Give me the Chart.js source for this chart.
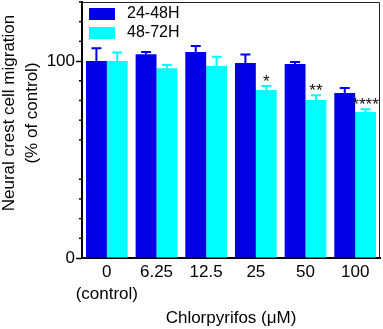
<!DOCTYPE html>
<html>
<head>
<meta charset="utf-8">
<script src="https://cdn.jsdelivr.net/npm/chart.js@4/dist/chart.umd.min.js"></script>
<style>
  body { margin: 0; background: #fff; }
  #wrap { width: 383px; height: 329px; }
</style>
</head>
<body>
<div id="wrap"><canvas id="chart" width="383" height="329"></canvas></div>
<script>
// Data
const doses = [['0', '(control)'], '6.25', '12.5', '25', '50', '100'];
const seriesNames = ['24-48H', '48-72H'];
const mean2448 = [100, 103.5, 104.6, 99, 98.5, 83.8];
const err2448 = [6.5, 1.1, 3, 4.3, 1, 2.5];
const mean4872 = [100, 96.4, 97.5, 85.3, 80.2, 74.1];
const err4872 = [4.3, 1.6, 4.7, 2, 2.5, 1.5];
const stars4872 = ['', '', '', '*', '**', '****'];
const yTicksShown = [0, 50, 100];

const FONT = 'Liberation Sans, Arial, sans-serif';
const darkBlue = '#0000e6';
const cyan = '#00ffff';

// error bars (upper half only) + significance stars
const errorBars = {
    id: 'errorBars',
    afterDatasetsDraw(chart) {
        const ctx = chart.ctx;
        const y = chart.scales.y;
        chart.data.datasets.forEach((ds, di) => {
            const meta = chart.getDatasetMeta(di);
            meta.data.forEach((bar, i) => {
                const top = y.getPixelForValue(ds.data[i] + ds.errors[i]);
                const base = y.getPixelForValue(ds.data[i]);
                ctx.save();
                ctx.strokeStyle = ds.backgroundColor;
                ctx.lineWidth = 2;
                ctx.beginPath();
                ctx.moveTo(bar.x, base);
                ctx.lineTo(bar.x, top);
                ctx.moveTo(bar.x - 5, top);
                ctx.lineTo(bar.x + 5, top);
                ctx.stroke();
                if (ds.stars && ds.stars[i]) {
                    ctx.fillStyle = '#111';
                    ctx.font = '17px ' + FONT;
                    ctx.textAlign = 'center';
                    ctx.textBaseline = 'alphabetic';
                    ctx.fillText(ds.stars[i], bar.x, top + 1);
                }
                ctx.restore();
            });
        });
    }
};

// frame, minor ticks, legend and y title
const decorations = {
    id: 'decorations',
    afterDraw(chart) {
        const ctx = chart.ctx;
        const a = chart.chartArea;
        const y = chart.scales.y;
        ctx.save();
        // thin frame top/right
        ctx.strokeStyle = '#222';
        ctx.lineWidth = 1;
        ctx.beginPath();
        ctx.moveTo(a.left, a.top + 0.5);
        ctx.lineTo(a.right - 0.5, a.top + 0.5);
        ctx.lineTo(a.right - 0.5, a.bottom);
        ctx.stroke();
        // minor ticks every 10
        ctx.lineWidth = 1.5;
        ctx.strokeStyle = '#000';
        for (let v = 10; v <= 130; v += 10) {
            if (v % 50 === 0) continue;
            const py = y.getPixelForValue(v);
            ctx.beginPath();
            ctx.moveTo(a.left - 3, py);
            ctx.lineTo(a.left, py);
            ctx.stroke();
        }
        // legend inside plot
        ctx.font = '16px ' + FONT;
        ctx.textBaseline = 'middle';
        ctx.textAlign = 'left';
        chart.data.datasets.forEach((ds, i) => {
            const top = 8 + i * 19;
            ctx.fillStyle = ds.backgroundColor;
            ctx.fillRect(a.left + 7, top, 26, 12);
            ctx.fillStyle = '#000';
            ctx.fillText(ds.label, a.left + 45, top + 6);
        });
        // y title (two lines)
        ctx.translate(0, 113);
        ctx.rotate(-Math.PI / 2);
        ctx.textAlign = 'center';
        ctx.font = '17px ' + FONT;
        ctx.fillText('Neural crest cell migration', 0, 9);
        ctx.fillText('(% of control)', 0, 32);
        ctx.restore();
    }
};

new Chart(document.getElementById('chart'), {
    type: 'bar',
    data: {
        labels: doses,
        datasets: [
            { label: seriesNames[0], data: mean2448, errors: err2448, backgroundColor: darkBlue },
            { label: seriesNames[1], data: mean4872, errors: err4872, stars: stars4872, backgroundColor: cyan }
        ]
    },
    options: {
        responsive: false,
        animation: false,
        layout: { padding: { top: 2, right: 3, left: 0, bottom: 0 } },
        datasets: { bar: { categoryPercentage: 0.84, barPercentage: 1 } },
        plugins: { legend: { display: false }, tooltip: { enabled: false } },
        scales: {
            x: {
                afterFit(scale) {
                    scale.height = 71;
                    scale.paddingLeft = 0;
                    scale.paddingRight = 0;
                },
                grid: { display: false, drawTicks: false },
                border: { display: true, color: '#000', width: 2 },
                ticks: {
                    color: '#000',
                    padding: 3,
                    autoSkip: false,
                    maxRotation: 0,
                    minRotation: 0,
                    font: { family: FONT, size: 17, lineHeight: 1.3 }
                },
                title: {
                    display: true,
                    text: 'Chlorpyrifos (μM)',
                    color: '#000',
                    font: { family: FONT, size: 17 },
                    padding: { top: 0, bottom: 0 }
                }
            },
            y: {
                min: 0,
                max: 130,
                afterFit(scale) {
                    scale.width = 82;
                    scale.paddingTop = 0;
                    scale.paddingBottom = 0;
                },
                border: { display: true, color: '#000', width: 2 },
                grid: {
                    drawOnChartArea: false,
                    tickLength: 6,
                    tickWidth: 1.5,
                    tickColor: c => yTicksShown.includes(c.tick.value) ? '#000' : 'rgba(0,0,0,0)'
                },
                ticks: {
                    stepSize: 10,
                    padding: 1,
                    color: '#000',
                    font: { family: FONT, size: 17 },
                    callback: v => yTicksShown.includes(v) ? v : ''
                }
            }
        }
    },
    plugins: [errorBars, decorations]
});
</script>
</body>
</html>
